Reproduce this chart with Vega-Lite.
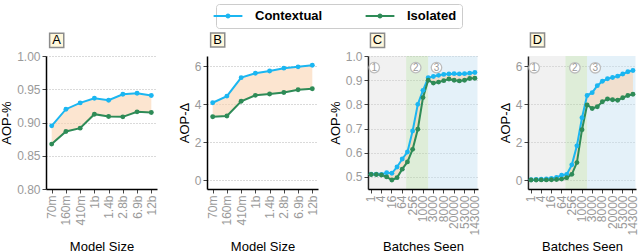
{
  "$schema": "https://vega.github.io/schema/vega-lite/v6.json",
  "padding": {"left": 0, "top": 3, "right": 0, "bottom": 0},
  "background": "white",
  "datasets": {
    "A": [
      {"size": "70m", "Contextual": 0.895, "Isolated": 0.8675},
      {"size": "160m", "Contextual": 0.92, "Isolated": 0.8865},
      {"size": "410m", "Contextual": 0.9295, "Isolated": 0.8915},
      {"size": "1b", "Contextual": 0.9365, "Isolated": 0.9125},
      {"size": "1.4b", "Contextual": 0.9335, "Isolated": 0.909},
      {"size": "2.8b", "Contextual": 0.9425, "Isolated": 0.9085},
      {"size": "6.9b", "Contextual": 0.944, "Isolated": 0.916},
      {"size": "12b", "Contextual": 0.9405, "Isolated": 0.915}
    ],
    "B": [
      {"size": "70m", "Contextual": 4.07, "Isolated": 3.33},
      {"size": "160m", "Contextual": 4.42, "Isolated": 3.37},
      {"size": "410m", "Contextual": 5.39, "Isolated": 4.15},
      {"size": "1b", "Contextual": 5.62, "Isolated": 4.46},
      {"size": "1.4b", "Contextual": 5.74, "Isolated": 4.53},
      {"size": "2.8b", "Contextual": 5.89, "Isolated": 4.61},
      {"size": "6.9b", "Contextual": 5.96, "Isolated": 4.75},
      {"size": "12b", "Contextual": 6.04, "Isolated": 4.81}
    ],
    "C": [
      {"batches": 1, "Contextual": 0.511, "Isolated": 0.51},
      {"batches": 2, "Contextual": 0.511, "Isolated": 0.51},
      {"batches": 4, "Contextual": 0.51, "Isolated": 0.508},
      {"batches": 8, "Contextual": 0.517, "Isolated": 0.5},
      {"batches": 16, "Contextual": 0.515, "Isolated": 0.487},
      {"batches": 32, "Contextual": 0.541, "Isolated": 0.497},
      {"batches": 64, "Contextual": 0.574, "Isolated": 0.532},
      {"batches": 128, "Contextual": 0.603, "Isolated": 0.562},
      {"batches": 256, "Contextual": 0.69, "Isolated": 0.614},
      {"batches": 512, "Contextual": 0.8, "Isolated": 0.697},
      {"batches": 1000, "Contextual": 0.858, "Isolated": 0.828},
      {"batches": 2000, "Contextual": 0.91, "Isolated": 0.9},
      {"batches": 3000, "Contextual": 0.915, "Isolated": 0.888},
      {"batches": 5000, "Contextual": 0.92, "Isolated": 0.892},
      {"batches": 8000, "Contextual": 0.924, "Isolated": 0.898},
      {"batches": 13000, "Contextual": 0.926, "Isolated": 0.905},
      {"batches": 20000, "Contextual": 0.927, "Isolated": 0.9},
      {"batches": 33000, "Contextual": 0.926, "Isolated": 0.897},
      {"batches": 53000, "Contextual": 0.927, "Isolated": 0.9},
      {"batches": 93000, "Contextual": 0.929, "Isolated": 0.907},
      {"batches": 143000, "Contextual": 0.932, "Isolated": 0.908}
    ],
    "D": [
      {"batches": 1, "Contextual": 0.02, "Isolated": 0.0},
      {"batches": 2, "Contextual": 0.03, "Isolated": 0.0},
      {"batches": 4, "Contextual": 0.04, "Isolated": 0.01},
      {"batches": 8, "Contextual": 0.06, "Isolated": 0.01},
      {"batches": 16, "Contextual": 0.09, "Isolated": 0.02},
      {"batches": 32, "Contextual": 0.14, "Isolated": 0.03},
      {"batches": 64, "Contextual": 0.25, "Isolated": 0.05},
      {"batches": 128, "Contextual": 0.3, "Isolated": 0.12},
      {"batches": 256, "Contextual": 0.8, "Isolated": 0.3},
      {"batches": 512, "Contextual": 1.8, "Isolated": 0.92},
      {"batches": 1000, "Contextual": 3.28, "Isolated": 2.65},
      {"batches": 2000, "Contextual": 4.45, "Isolated": 3.95},
      {"batches": 3000, "Contextual": 4.6, "Isolated": 3.77},
      {"batches": 5000, "Contextual": 4.97, "Isolated": 3.86},
      {"batches": 8000, "Contextual": 5.2, "Isolated": 4.12},
      {"batches": 13000, "Contextual": 5.33, "Isolated": 4.27},
      {"batches": 20000, "Contextual": 5.4, "Isolated": 4.23},
      {"batches": 33000, "Contextual": 5.47, "Isolated": 4.2},
      {"batches": 53000, "Contextual": 5.58, "Isolated": 4.33},
      {"batches": 93000, "Contextual": 5.7, "Isolated": 4.45},
      {"batches": 143000, "Contextual": 5.77, "Isolated": 4.52}
    ],
    "phases": [
      {"phase": "1", "at": 2},
      {"phase": "2", "at": 512},
      {"phase": "3", "at": 5000}
    ]
  },
  "spacing": 50,
  "bounds": "flush",
  "hconcat": [
    {
      "width": 111, "height": 133,
      "data": {"name": "A"},
      "layer": [
        {
          "mark": {"type": "area", "color": "#FAD3B0", "opacity": 0.6},
          "encoding": {
            "x": {"field": "size", "type": "ordinal", "sort": ["70m","160m","410m","1b","1.4b","2.8b","6.9b","12b"], "scale": {"type": "point", "padding": 0.4}, "axis": {"title": "Model Size"}},
            "y": {"field": "Contextual", "type": "quantitative", "scale": {"domain": [0.8, 1.0], "nice": false, "zero": false}, "axis": {"title": "AOP-%", "values": [0.8, 0.85, 0.9, 0.95, 1.0], "tickCount": 20, "format": ".2f"}},
            "y2": {"field": "Isolated"}
          }
        },
        {
          "transform": [{"fold": ["Contextual", "Isolated"], "as": ["Condition", "AOP"]}],
          "mark": {"type": "line", "strokeWidth": 2, "point": {"filled": true, "size": 24}},
          "encoding": {
            "x": {"field": "size", "type": "ordinal", "sort": ["70m","160m","410m","1b","1.4b","2.8b","6.9b","12b"]},
            "y": {"field": "AOP", "type": "quantitative", "axis": {"title": "AOP-%", "values": [0.8, 0.85, 0.9, 0.95, 1.0], "tickCount": 20, "format": ".2f"}},
            "color": {"field": "Condition", "type": "nominal", "scale": {"domain": ["Contextual", "Isolated"], "range": ["#1BB6F1", "#2E8B57"]},
              "legend": {"orient": "none", "legendX": 170, "legendY": -52, "direction": "horizontal", "title": null, "symbolType": "M-2.4,0H2.4M-0.25,0a0.25,0.25 0 1,0 0.5,0a0.25,0.25 0 1,0 -0.5,0", "symbolSize": 144, "symbolStrokeWidth": 2, "labelFontSize": 13, "labelFontWeight": "bold", "labelColor": "black", "labelOffset": 20, "columnPadding": 38, "padding": 5, "strokeColor": "#cccccc", "fillColor": "white", "cornerRadius": 3, "symbolOpacity": 1,
                "encode": {"symbols": {"update": {"fill": {"scale": "color", "field": "value"}}}}}}
          }
        },
        {
          "data": {"values": [{"label": "A"}]},
          "mark": {"type": "point", "shape": "square", "size": 200, "filled": true, "fill": "#FFF8DC", "stroke": "#8c8c8c", "strokeWidth": 1.5, "opacity": 1},
          "encoding": {"x": {"datum": "70m", "type": "ordinal"}, "xOffset": {"value": 5}, "y": {"datum": 1.0235, "type": "quantitative"}}
        },
        {
          "data": {"values": [{"label": "A"}]},
          "mark": {"type": "text", "fontSize": 13, "color": "black", "baseline": "middle"},
          "encoding": {"x": {"datum": "70m", "type": "ordinal"}, "xOffset": {"value": 5}, "y": {"datum": 1.0235, "type": "quantitative"}, "text": {"field": "label"}}
        }
      ]
    },
    {
      "width": 111, "height": 133,
      "data": {"name": "B"},
      "layer": [
        {
          "mark": {"type": "area", "color": "#FAD3B0", "opacity": 0.6},
          "encoding": {
            "x": {"field": "size", "type": "ordinal", "sort": ["70m","160m","410m","1b","1.4b","2.8b","6.9b","12b"], "scale": {"type": "point", "padding": 0.4}, "axis": {"title": "Model Size"}},
            "y": {"field": "Contextual", "type": "quantitative", "scale": {"domain": [-0.47, 6.53], "nice": false, "zero": false}, "axis": {"title": "AOP-Δ", "values": [0, 2, 4, 6], "tickCount": 20, "format": "d"}},
            "y2": {"field": "Isolated"}
          }
        },
        {
          "transform": [{"fold": ["Contextual", "Isolated"], "as": ["Condition", "AOP"]}],
          "mark": {"type": "line", "strokeWidth": 2, "point": {"filled": true, "size": 24}},
          "encoding": {
            "x": {"field": "size", "type": "ordinal", "sort": ["70m","160m","410m","1b","1.4b","2.8b","6.9b","12b"]},
            "y": {"field": "AOP", "type": "quantitative", "axis": {"title": "AOP-Δ", "values": [0, 2, 4, 6], "tickCount": 20, "format": "d"}},
            "color": {"field": "Condition", "type": "nominal", "scale": {"domain": ["Contextual", "Isolated"], "range": ["#1BB6F1", "#2E8B57"]},
              "legend": {"orient": "none", "legendX": 170, "legendY": -52, "direction": "horizontal", "title": null, "symbolType": "M-2.4,0H2.4M-0.25,0a0.25,0.25 0 1,0 0.5,0a0.25,0.25 0 1,0 -0.5,0", "symbolSize": 144, "symbolStrokeWidth": 2, "labelFontSize": 13, "labelFontWeight": "bold", "labelColor": "black", "labelOffset": 20, "columnPadding": 38, "padding": 5, "strokeColor": "#cccccc", "fillColor": "white", "cornerRadius": 3, "symbolOpacity": 1,
                "encode": {"symbols": {"update": {"fill": {"scale": "color", "field": "value"}}}}}}
          }
        },
        {
          "data": {"values": [{"label": "B"}]},
          "mark": {"type": "point", "shape": "square", "size": 200, "filled": true, "fill": "#FFF8DC", "stroke": "#8c8c8c", "strokeWidth": 1.5, "opacity": 1},
          "encoding": {"x": {"datum": "70m", "type": "ordinal"}, "xOffset": {"value": 5}, "y": {"datum": 7.37, "type": "quantitative"}}
        },
        {
          "data": {"values": [{"label": "B"}]},
          "mark": {"type": "text", "fontSize": 13, "color": "black", "baseline": "middle"},
          "encoding": {"x": {"datum": "70m", "type": "ordinal"}, "xOffset": {"value": 5}, "y": {"datum": 7.37, "type": "quantitative"}, "text": {"field": "label"}}
        }
      ]
    },
    {
      "width": 110, "height": 133,
      "data": {"name": "C"},
      "layer": [
        {
          "data": {"values": [{"phase": "1"}]},
          "mark": {"type": "rect", "color": "#d6d6d6", "opacity": 0.35},
          "encoding": {"x": {"datum": 1, "type": "ordinal", "bandPosition": 0}, "x2": {"datum": 128, "bandPosition": 0.25}}
        },
        {
          "data": {"values": [{"phase": "2"}]},
          "mark": {"type": "rect", "color": "#b5d6a8", "opacity": 0.45},
          "encoding": {"x": {"datum": 128, "type": "ordinal", "bandPosition": 0.25}, "x2": {"datum": 2000, "bandPosition": 0.5}}
        },
        {
          "data": {"values": [{"phase": "3"}]},
          "mark": {"type": "rect", "color": "#c4e0f2", "opacity": 0.45},
          "encoding": {"x": {"datum": 2000, "type": "ordinal", "bandPosition": 0.5}, "x2": {"datum": 143000, "bandPosition": 1}}
        },
        {
          "mark": {"type": "area", "color": "#FAD3B0", "opacity": 0.6},
          "encoding": {
            "x": {"field": "batches", "type": "ordinal", "bandPosition": 0.5, "scale": {"type": "band", "paddingInner": 0, "paddingOuter": 0.1}, "axis": {"title": "Batches Seen", "values": [1, 4, 16, 64, 256, 1000, 3000, 8000, 20000, 53000, 143000]}},
            "y": {"field": "Contextual", "type": "quantitative", "scale": {"domain": [0.45, 1.0], "nice": false, "zero": false}, "axis": {"title": "AOP-%", "values": [0.5, 0.6, 0.7, 0.8, 0.9, 1.0], "tickCount": 20, "format": ".1f"}},
            "y2": {"field": "Isolated"}
          }
        },
        {
          "transform": [{"fold": ["Contextual", "Isolated"], "as": ["Condition", "AOP"]}],
          "mark": {"type": "line", "strokeWidth": 2, "point": {"filled": true, "size": 24}},
          "encoding": {
            "x": {"field": "batches", "type": "ordinal", "bandPosition": 0.5},
            "y": {"field": "AOP", "type": "quantitative", "axis": {"title": "AOP-%", "values": [0.5, 0.6, 0.7, 0.8, 0.9, 1.0], "tickCount": 20, "format": ".1f"}},
            "color": {"field": "Condition", "type": "nominal", "scale": {"domain": ["Contextual", "Isolated"], "range": ["#1BB6F1", "#2E8B57"]},
              "legend": {"orient": "none", "legendX": 170, "legendY": -52, "direction": "horizontal", "title": null, "symbolType": "M-2.4,0H2.4M-0.25,0a0.25,0.25 0 1,0 0.5,0a0.25,0.25 0 1,0 -0.5,0", "symbolSize": 144, "symbolStrokeWidth": 2, "labelFontSize": 13, "labelFontWeight": "bold", "labelColor": "black", "labelOffset": 20, "columnPadding": 38, "padding": 5, "strokeColor": "#cccccc", "fillColor": "white", "cornerRadius": 3, "symbolOpacity": 1,
                "encode": {"symbols": {"update": {"fill": {"scale": "color", "field": "value"}}}}}}
          }
        },
        {
          "data": {"name": "phases"},
          "mark": {"type": "point", "shape": "circle", "size": 110, "filled": true, "fill": "white", "stroke": "#bdbdbd", "strokeWidth": 1.3, "opacity": 1},
          "encoding": {"x": {"field": "at", "type": "ordinal", "bandPosition": 0.1}, "y": {"datum": 0.952, "type": "quantitative"}}
        },
        {
          "data": {"name": "phases"},
          "mark": {"type": "text", "fontSize": 10, "color": "#9a9a9a", "baseline": "middle"},
          "encoding": {"x": {"field": "at", "type": "ordinal", "bandPosition": 0.1}, "y": {"datum": 0.952, "type": "quantitative"}, "text": {"field": "phase"}}
        },
        {
          "data": {"values": [{"label": "C"}]},
          "mark": {"type": "point", "shape": "square", "size": 200, "filled": true, "fill": "#FFF8DC", "stroke": "#8c8c8c", "strokeWidth": 1.5, "opacity": 1},
          "encoding": {"x": {"datum": 1, "type": "ordinal", "bandPosition": 0.5}, "xOffset": {"value": 9}, "y": {"datum": 1.0645, "type": "quantitative"}}
        },
        {
          "data": {"values": [{"label": "C"}]},
          "mark": {"type": "text", "fontSize": 13, "color": "black", "baseline": "middle"},
          "encoding": {"x": {"datum": 1, "type": "ordinal", "bandPosition": 0.5}, "xOffset": {"value": 9}, "y": {"datum": 1.0645, "type": "quantitative"}, "text": {"field": "label"}}
        }
      ]
    },
    {
      "width": 108, "height": 133,
      "data": {"name": "D"},
      "layer": [
        {
          "data": {"values": [{"phase": "1"}]},
          "mark": {"type": "rect", "color": "#d6d6d6", "opacity": 0.35},
          "encoding": {"x": {"datum": 1, "type": "ordinal", "bandPosition": 0}, "x2": {"datum": 128, "bandPosition": 0.25}}
        },
        {
          "data": {"values": [{"phase": "2"}]},
          "mark": {"type": "rect", "color": "#b5d6a8", "opacity": 0.45},
          "encoding": {"x": {"datum": 128, "type": "ordinal", "bandPosition": 0.25}, "x2": {"datum": 2000, "bandPosition": 0.5}}
        },
        {
          "data": {"values": [{"phase": "3"}]},
          "mark": {"type": "rect", "color": "#c4e0f2", "opacity": 0.45},
          "encoding": {"x": {"datum": 2000, "type": "ordinal", "bandPosition": 0.5}, "x2": {"datum": 143000, "bandPosition": 1}}
        },
        {
          "mark": {"type": "area", "color": "#FAD3B0", "opacity": 0.6},
          "encoding": {
            "x": {"field": "batches", "type": "ordinal", "bandPosition": 0.5, "scale": {"type": "band", "paddingInner": 0, "paddingOuter": 0.1}, "axis": {"title": "Batches Seen", "values": [1, 4, 16, 64, 256, 1000, 3000, 8000, 20000, 53000, 143000]}},
            "y": {"field": "Contextual", "type": "quantitative", "scale": {"domain": [-0.47, 6.53], "nice": false, "zero": false}, "axis": {"title": "AOP-Δ", "values": [0, 2, 4, 6], "tickCount": 20, "format": "d"}},
            "y2": {"field": "Isolated"}
          }
        },
        {
          "transform": [{"fold": ["Contextual", "Isolated"], "as": ["Condition", "AOP"]}],
          "mark": {"type": "line", "strokeWidth": 2, "point": {"filled": true, "size": 24}},
          "encoding": {
            "x": {"field": "batches", "type": "ordinal", "bandPosition": 0.5},
            "y": {"field": "AOP", "type": "quantitative", "axis": {"title": "AOP-Δ", "values": [0, 2, 4, 6], "tickCount": 20, "format": "d"}},
            "color": {"field": "Condition", "type": "nominal", "scale": {"domain": ["Contextual", "Isolated"], "range": ["#1BB6F1", "#2E8B57"]},
              "legend": {"orient": "none", "legendX": 170, "legendY": -52, "direction": "horizontal", "title": null, "symbolType": "M-2.4,0H2.4M-0.25,0a0.25,0.25 0 1,0 0.5,0a0.25,0.25 0 1,0 -0.5,0", "symbolSize": 144, "symbolStrokeWidth": 2, "labelFontSize": 13, "labelFontWeight": "bold", "labelColor": "black", "labelOffset": 20, "columnPadding": 38, "padding": 5, "strokeColor": "#cccccc", "fillColor": "white", "cornerRadius": 3, "symbolOpacity": 1,
                "encode": {"symbols": {"update": {"fill": {"scale": "color", "field": "value"}}}}}}
          }
        },
        {
          "data": {"name": "phases"},
          "mark": {"type": "point", "shape": "circle", "size": 110, "filled": true, "fill": "white", "stroke": "#bdbdbd", "strokeWidth": 1.3, "opacity": 1},
          "encoding": {"x": {"field": "at", "type": "ordinal", "bandPosition": 0.1}, "y": {"datum": 5.91, "type": "quantitative"}}
        },
        {
          "data": {"name": "phases"},
          "mark": {"type": "text", "fontSize": 10, "color": "#9a9a9a", "baseline": "middle"},
          "encoding": {"x": {"field": "at", "type": "ordinal", "bandPosition": 0.1}, "y": {"datum": 5.91, "type": "quantitative"}, "text": {"field": "phase"}}
        },
        {
          "data": {"values": [{"label": "D"}]},
          "mark": {"type": "point", "shape": "square", "size": 200, "filled": true, "fill": "#FFF8DC", "stroke": "#8c8c8c", "strokeWidth": 1.5, "opacity": 1},
          "encoding": {"x": {"datum": 1, "type": "ordinal", "bandPosition": 0.5}, "xOffset": {"value": 9}, "y": {"datum": 7.37, "type": "quantitative"}}
        },
        {
          "data": {"values": [{"label": "D"}]},
          "mark": {"type": "text", "fontSize": 13, "color": "black", "baseline": "middle"},
          "encoding": {"x": {"datum": 1, "type": "ordinal", "bandPosition": 0.5}, "xOffset": {"value": 9}, "y": {"datum": 7.37, "type": "quantitative"}, "text": {"field": "label"}}
        }
      ]
    }
  ],
  "config": {
    "font": "Liberation Sans",
    "view": {"stroke": null},
    "axis": {"labelColor": "#9a9a9a", "labelFontSize": 12, "titleFontSize": 13, "titleFontWeight": "normal", "titleColor": "black", "domainColor": "black", "domainWidth": 1.5, "tickColor": "#444444", "tickSize": 4, "labelPadding": 2, "titlePadding": 3, "labelOverlap": false, "labelFlush": false},
    "axisY": {"grid": true, "gridDash": [1, 2], "gridColor": "#b4b4b4", "gridWidth": 1},
    "axisX": {"grid": false, "labelAngle": -90, "titleY": 51, "titleBaseline": "top"}
  }
}
